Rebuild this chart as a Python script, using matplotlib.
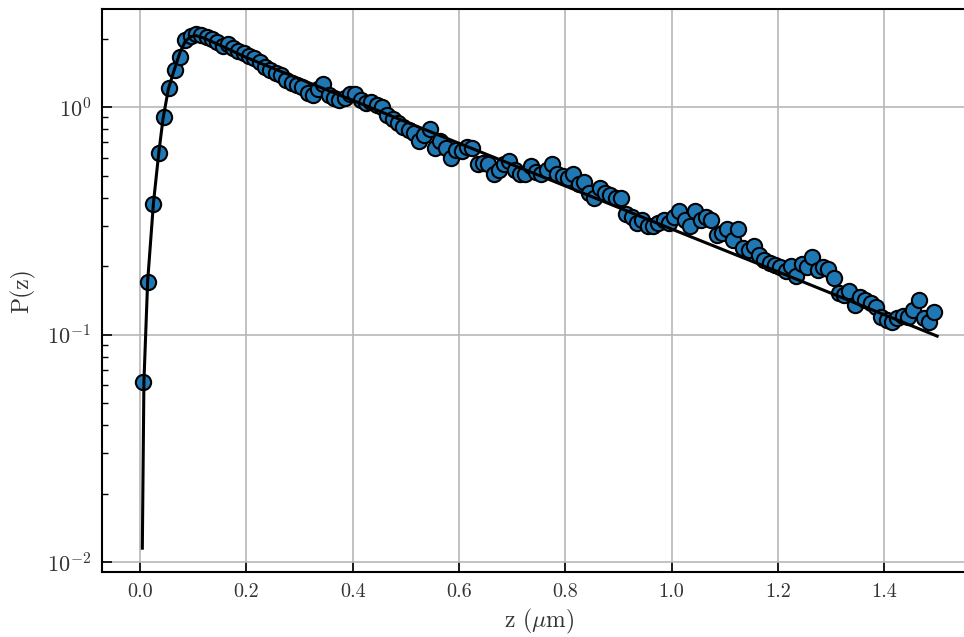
import numpy as np
import matplotlib
matplotlib.use("Agg")
import matplotlib.pyplot as plt

plt.rcParams['font.family'] = 'serif'
plt.rcParams['font.serif'] = ['cmr10', 'DejaVu Serif']
plt.rcParams['mathtext.fontset'] = 'cm'
plt.rcParams['axes.formatter.use_mathtext'] = True

# measured histogram P(z), z bins of 0.01 um
z_data = [0.005 + 0.01 * i for i in range(150)]
p_data = [
    0.062, 0.17, 0.375, 0.63, 0.90, 1.21, 1.46, 1.66, 1.98, 2.06,
    2.09, 2.07, 2.04, 1.99, 1.93, 1.86, 1.90, 1.82, 1.76, 1.73,
    1.67, 1.64, 1.57, 1.50, 1.45, 1.41, 1.38, 1.32, 1.28, 1.25,
    1.22, 1.15, 1.13, 1.20, 1.26, 1.13, 1.10, 1.07, 1.10, 1.14,
    1.14, 1.07, 1.04, 1.05, 1.02, 1.00, 0.92, 0.89, 0.85, 0.82,
    0.79, 0.77, 0.71, 0.75, 0.80, 0.66, 0.71, 0.66, 0.60, 0.65,
    0.64, 0.67, 0.66, 0.56, 0.57, 0.56, 0.51, 0.53, 0.56, 0.58,
    0.53, 0.51, 0.51, 0.55, 0.52, 0.51, 0.53, 0.56, 0.51, 0.50,
    0.49, 0.51, 0.46, 0.47, 0.42, 0.40, 0.44, 0.42, 0.41, 0.40,
    0.40, 0.34, 0.33, 0.31, 0.32, 0.30, 0.30, 0.31, 0.32, 0.31,
    0.33, 0.35, 0.32, 0.30, 0.35, 0.32, 0.33, 0.32, 0.275, 0.28,
    0.29, 0.26, 0.29, 0.24, 0.235, 0.245, 0.224, 0.213, 0.206, 0.202,
    0.198, 0.19, 0.20, 0.18, 0.205, 0.198, 0.22, 0.192, 0.198, 0.195,
    0.177, 0.152, 0.149, 0.155, 0.135, 0.146, 0.142, 0.137, 0.132, 0.12,
    0.116, 0.114, 0.118, 0.121, 0.12, 0.128, 0.142, 0.118, 0.114, 0.126,
]

# fitted theoretical curve
z_fit = [0.004, 0.007, 0.014, 0.025, 0.035, 0.043, 0.053, 0.065, 0.075, 0.085,
         0.095, 0.105, 0.12, 0.15, 0.2, 0.4, 0.6, 0.8, 1.0, 1.2, 1.5]
p_fit = [0.0115, 0.062, 0.171, 0.38, 0.63, 0.89, 1.20, 1.48, 1.74, 1.95,
         2.04, 2.06, 2.01, 1.87, 1.65, 1.07, 0.693, 0.450, 0.291, 0.189, 0.0984]

W, H = 964, 637
fig = plt.figure(figsize=(W / 100, H / 100), dpi=100)
ax = fig.add_axes([102 / W, 1 - 572 / H, 875 / W, 563 / H])

ax.grid(True, color='#b8b8b8', linewidth=1.2, zorder=0)
ax.set_axisbelow(True)
ax.plot(z_data, p_data, 'o', markersize=11, markerfacecolor='#1f77b4',
        markeredgecolor='black', markeredgewidth=1.5, zorder=2)
ax.plot(z_fit, p_fit, '-', color='black', linewidth=2.2, zorder=3)

ax.set_yscale('log')
ax.set_xlim(-0.0719, 1.575)
ax.set_ylim(10 ** -2.044, 10 ** 0.431)
ax.set_xticks([0.0, 0.2, 0.4, 0.6, 0.8, 1.0, 1.2, 1.4])
ax.set_xticklabels(['0.0', '0.2', '0.4', '0.6', '0.8', '1.0', '1.2', '1.4'])

ax.tick_params(which='major', direction='in', length=7, width=1.2,
               labelsize=14.5, labelcolor='#333333', pad=8)
ax.tick_params(axis='y', which='major', labelsize=16)
ax.tick_params(which='minor', direction='in', length=4, width=1.0)
for s in ax.spines.values():
    s.set_linewidth(1.5)

ax.set_xlabel(r'z ($\mu$m)', fontsize=17, labelpad=4, color='#333333')
ax.set_ylabel('P(z)', fontsize=17, labelpad=8, color='#333333')

fig.savefig('out.png', dpi=100)
